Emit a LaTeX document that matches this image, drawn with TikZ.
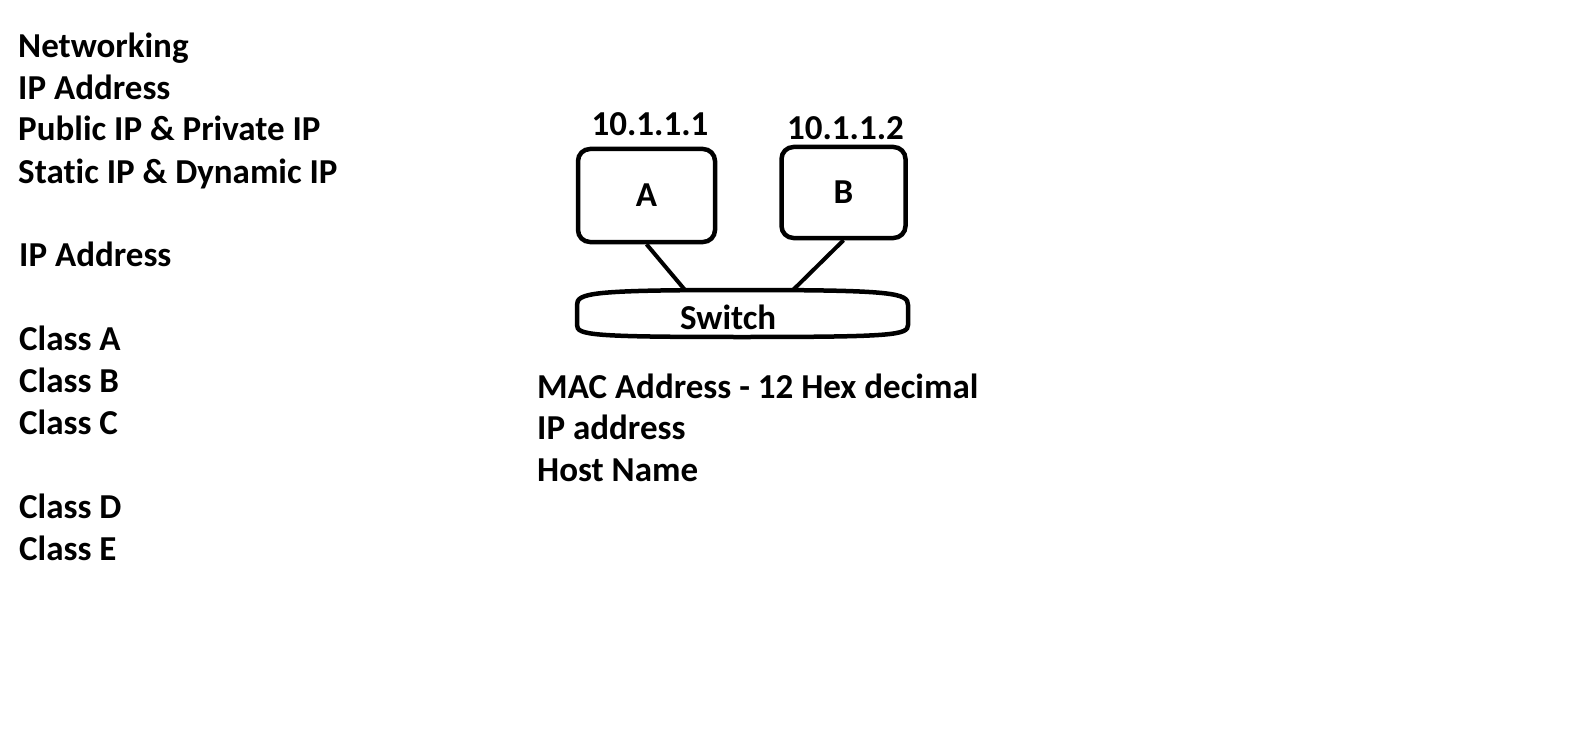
\documentclass[tikz,border=0pt]{standalone}
\usepackage{fontspec}
\setmainfont[Ligatures=NoCommon]{Carlito}
\usepackage{tikz}
\usetikzlibrary{positioning,calc}
\tikzset{
        host/.style = {draw, rectangle, rounded corners=12pt,
            line width=4.5pt,
            font=\bfseries\fontsize{35}{42}\selectfont},
        txt/.style = {anchor=base west, inner sep=0pt,
            font=\bfseries\fontsize{35}{42}\selectfont},
        addr/.style = {inner sep=0pt, anchor=south,
            font=\bfseries\fontsize{35}{42}\selectfont},
        link/.style = {draw, line width=4pt},
    }

\begin{document}
\begin{tikzpicture}[x=1pt,y=-1pt]
                \useasboundingbox (0,0) rectangle (1594,730);

                % topics on the left
                \node[txt] (t1) at (18,58) {Networking};
                \node[txt] (t2) at (18,100) {IP Address};
                \node[txt] (t3) at (18,141) {Public IP \& Private IP};
                \node[txt] (t4) at (18,184) {Static IP \& Dynamic IP};
                \node[txt] (t5) at (19,266) {IP Address};
                \node[txt] (c1) at (19,350) {Class A};
                \node[txt] (c2) at (19,392) {Class B};
                \node[txt] (c3) at (19,434) {Class C};
                \node[txt] (c4) at (19,518) {Class D};
                \node[txt] (c5) at (19,560) {Class E};

                % hosts
                \node[host, minimum width=137pt, minimum height=93pt] (a) at (646.5,195.5) {A};
                \node[host, minimum width=124pt, minimum height=91pt,
                      right=62pt of a, yshift=3pt] (b) {B};
                \node[addr, above=11pt of a, xshift=3.5pt] (ipa) {10.1.1.1};
                \node[addr, above=5pt of b, xshift=2pt] (ipb) {10.1.1.2};

                % switch
                \draw[line width=4.5pt] (577,305) .. controls (577,293) and (590,290) .. (742,290)
                      .. controls (894,290) and (908,293) .. (908,305) -- (908,325)
                      .. controls (908,335) and (894,337) .. (742,337)
                      .. controls (590,337) and (577,335) .. (577,325) -- cycle;
                \node[txt] (sw) at (680,329) {Switch};
                \coordinate (swa) at (685,290);
                \coordinate (swb) at (793,290);

                \draw[link] (a.south) -- (swa);
                \draw[link] (b.south) -- (swb);

                % notes
                \node[txt] (n1) at (537,398) {MAC Address - 12 Hex decimal};
                \node[txt] (n2) at (537,439) {IP address};
                \node[txt] (n3) at (537,481) {Host Name};
\end{tikzpicture}
\end{document}
